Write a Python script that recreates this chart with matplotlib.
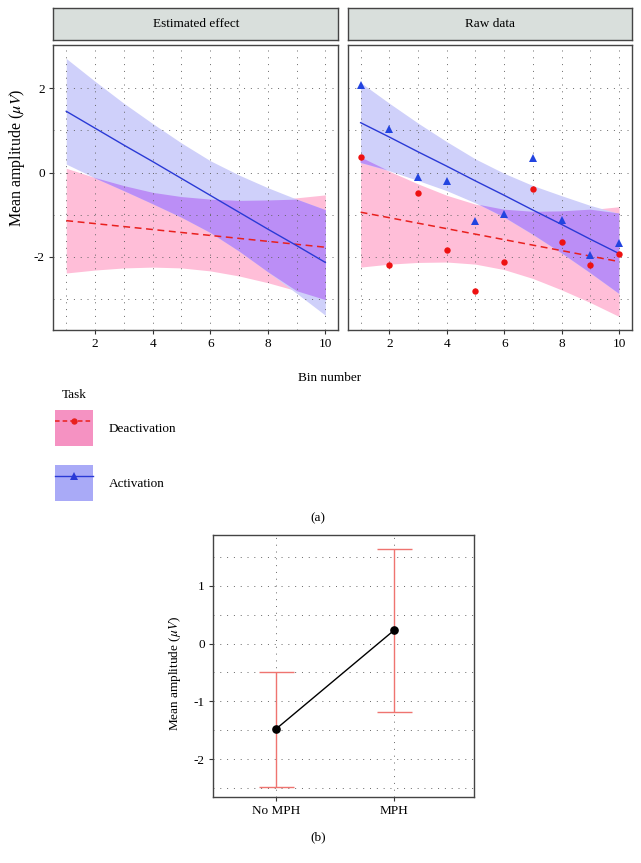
import numpy as np
import matplotlib
matplotlib.use("Agg")
import matplotlib.pyplot as plt
from matplotlib.patches import Patch
from matplotlib.lines import Line2D
from matplotlib.legend_handler import HandlerTuple

plt.rcParams['font.family'] = ['Liberation Serif', 'DejaVu Serif']
plt.rcParams['mathtext.fontset'] = 'stix'
plt.rcParams['axes.unicode_minus'] = False

# ---- data (a) ----
bins = np.arange(1, 11)

# estimated effect (model fit and confidence band)
est_deact_fit = [-1.14, -1.21, -1.28, -1.35, -1.42, -1.49, -1.56, -1.63, -1.70, -1.77]
est_deact_hi = [0.10, -0.12, -0.31, -0.47, -0.57, -0.63, -0.66, -0.65, -0.60, -0.53]
est_deact_lo = [-2.38, -2.31, -2.26, -2.24, -2.26, -2.33, -2.45, -2.61, -2.80, -3.01]
est_act_fit = [1.45, 1.05, 0.65, 0.26, -0.14, -0.54, -0.94, -1.34, -1.73, -2.13]
est_act_hi = [2.70, 2.16, 1.64, 1.16, 0.70, 0.28, -0.06, -0.36, -0.63, -0.88]
est_act_lo = [0.20, -0.13, -0.43, -0.74, -1.06, -1.42, -1.86, -2.35, -2.86, -3.38]

# raw data points, linear fit and band
raw_deact = [0.36, -2.19, -0.48, -1.84, -2.80, -2.13, -0.40, -1.65, -2.19, -1.93]
raw_act = [2.07, 1.04, -0.10, -0.21, -1.14, -0.98, 0.35, -1.12, -1.96, -1.68]
raw_deact_fit = [-0.94, -1.07, -1.20, -1.33, -1.46, -1.59, -1.72, -1.85, -1.98, -2.11]
raw_deact_hi = [0.36, 0.03, -0.27, -0.54, -0.75, -0.88, -0.93, -0.92, -0.88, -0.81]
raw_deact_lo = [-2.24, -2.17, -2.13, -2.12, -2.17, -2.30, -2.51, -2.78, -3.08, -3.41]
raw_act_fit = [1.18, 0.84, 0.49, 0.15, -0.20, -0.54, -0.89, -1.23, -1.58, -1.92]
raw_act_hi = [2.13, 1.64, 1.17, 0.73, 0.32, -0.02, -0.31, -0.55, -0.78, -0.97]
raw_act_lo = [0.23, 0.04, -0.19, -0.43, -0.72, -1.06, -1.47, -1.91, -2.38, -2.87]

# ---- data (b) ----
groups = ['No MPH', 'MPH']
group_mean = [-1.48, 0.23]
group_lo = [-2.48, -1.18]
group_hi = [-0.485, 1.64]

RED = '#e8201e'
BLUE = '#2a3ad6'
PINK_FILL = '#ffbed8'
BLUE_FILL = '#cfd0fa'
OVER_FILL = '#bb8ef6'
GRID_KW = dict(color='#666666', linestyle=(0, (1, 6)), linewidth=0.7)
FS = 9.5

W, H = 641, 863
fig = plt.figure(figsize=(W / 100, H / 100), dpi=100)


def fx(px):
    return px / W


def fy(py):
    return 1 - py / H


def style_axes(ax):
    for s in ax.spines.values():
        s.set_color('#444444')
        s.set_linewidth(1.0)
    ax.tick_params(which='major', length=3, width=0.8, color='#333333',
                   labelsize=FS, pad=3)
    ax.tick_params(which='minor', length=0)
    ax.set_axisbelow('line')
    ax.grid(which='both', **GRID_KW)


def draw_panel(ax, deact_fit, deact_lo, deact_hi, act_fit, act_lo, act_hi):
    d_lo, d_hi = np.array(deact_lo), np.array(deact_hi)
    a_lo, a_hi = np.array(act_lo), np.array(act_hi)
    ax.fill_between(bins, d_lo, d_hi, color=PINK_FILL, lw=0, zorder=1)
    ax.fill_between(bins, a_lo, a_hi, color=BLUE_FILL, lw=0, zorder=1)
    o_lo = np.maximum(d_lo, a_lo)
    o_hi = np.minimum(d_hi, a_hi)
    ax.fill_between(bins, o_lo, o_hi, where=o_hi > o_lo, interpolate=True,
                    color=OVER_FILL, lw=0, zorder=1)
    ax.plot(bins, deact_fit, color=RED, lw=1.1, ls=(0, (4.5, 3)), zorder=3)
    ax.plot(bins, act_fit, color=BLUE, lw=1.0, zorder=3)
    ax.set_xlim(0.55, 10.45)
    ax.set_ylim(-3.73, 3.02)
    ax.set_xticks([2, 4, 6, 8, 10])
    ax.set_xticks([1, 3, 5, 7, 9], minor=True)
    ax.set_yticks([-2, 0, 2])
    ax.set_yticks([-3, -1, 1], minor=True)
    style_axes(ax)


def strip(left, width, label):
    sax = fig.add_axes([fx(left), fy(40), fx(width), 31.7 / H])
    sax.set_facecolor('#d9dfdc')
    sax.set_xticks([])
    sax.set_yticks([])
    for s in sax.spines.values():
        s.set_color('#444444')
        s.set_linewidth(1.0)
    sax.text(0.5, 0.5, label, ha='center', va='center', fontsize=FS,
             transform=sax.transAxes)


# panel (a) left: estimated effect
axL = fig.add_axes([fx(53.3), fy(330), fx(285), 285 / H])
draw_panel(axL, est_deact_fit, est_deact_lo, est_deact_hi,
           est_act_fit, est_act_lo, est_act_hi)
strip(53.3, 285, 'Estimated effect')

# panel (a) right: raw data
axR = fig.add_axes([fx(347.7), fy(330), fx(284.3), 285 / H])
draw_panel(axR, raw_deact_fit, raw_deact_lo, raw_deact_hi,
           raw_act_fit, raw_act_lo, raw_act_hi)
axR.plot(bins, raw_deact, 'o', color='#ee1111', ms=4.6, mew=0, zorder=4)
axR.plot(bins, raw_act, '^', color='#2244e0', ms=5.8, mew=0, zorder=4)
axR.tick_params(axis='y', which='both', length=0, labelleft=False)
strip(347.7, 284.3, 'Raw data')

fig.text(fx(16.7), fy(157.5), r'Mean amplitude ($\mu V$)', rotation=90,
         ha='center', va='center', fontsize=11.5)
fig.text(fx(329.7), fy(378), 'Bin number', ha='center', va='center', fontsize=FS)

# legend
fig.text(fx(74), fy(395), 'Task', ha='center', va='center', fontsize=FS)
h_deact = (Patch(facecolor='#f592c2', edgecolor='none'),
           Line2D([], [], color=RED, lw=1.1, ls=(0, (3, 2)), marker='o',
                  ms=4.6, mew=0))
h_act = (Patch(facecolor='#a9aaf7', edgecolor='none'),
         Line2D([], [], color=BLUE, lw=1.0, marker='^', ms=5.8, mew=0))
fig.legend([h_deact, h_act], ['Deactivation', 'Activation'],
           handler_map={tuple: HandlerTuple(ndivide=1, pad=0)},
           loc='upper left', bbox_to_anchor=(fx(55), fy(410)),
           frameon=False, borderpad=0, borderaxespad=0, fontsize=FS,
           handlelength=2.85, handleheight=3.82, labelspacing=1.45,
           handletextpad=1.22, numpoints=1)

fig.text(fx(318), fy(518), '(a)', ha='center', va='center', fontsize=FS)

# panel (b)
axB = fig.add_axes([fx(213.3), fy(796.7), fx(261), 261.7 / H])
xpos = np.arange(1, len(groups) + 1)
mean = np.array(group_mean)
yerr = [mean - np.array(group_lo), np.array(group_hi) - mean]
axB.errorbar(xpos, mean, yerr=yerr, fmt='none', ecolor='#ef7470',
             elinewidth=1.0, capsize=12.6, capthick=1.0, zorder=2)
axB.plot(xpos, mean, '-o', color='black', lw=1.0, ms=5.2, zorder=3)
axB.set_xlim(0.47, 2.68)
axB.set_ylim(-2.65, 1.88)
axB.set_xticks(xpos)
axB.set_xticklabels(groups)
axB.set_yticks([-2, -1, 0, 1])
axB.set_yticks([-2.5, -1.5, -0.5, 0.5, 1.5], minor=True)
style_axes(axB)
fig.text(fx(175), fy(673), r'Mean amplitude ($\mu V$)', rotation=90,
         ha='center', va='center', fontsize=FS)
fig.text(fx(318), fy(837), '(b)', ha='center', va='center', fontsize=FS)

fig.savefig('out.png', dpi=100)
